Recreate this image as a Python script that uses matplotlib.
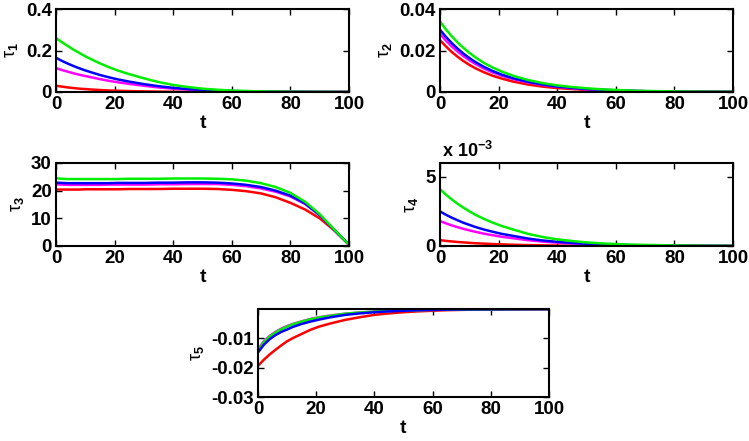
import matplotlib
matplotlib.use("Agg")
import matplotlib.pyplot as plt

plt.rcParams['font.family'] = ['Liberation Sans', 'DejaVu Sans']
plt.rcParams['font.weight'] = 'bold'
plt.rcParams['mathtext.fontset'] = 'custom'
plt.rcParams['mathtext.rm'] = 'Liberation Sans'
plt.rcParams['mathtext.it'] = 'Liberation Sans'
plt.rcParams['mathtext.bf'] = 'Liberation Sans:bold'

t = [0, 2, 4, 6, 8, 10, 12, 15, 18, 21, 25, 30, 35, 40, 45, 50, 55, 60, 65, 70, 75, 80, 85, 90, 95, 100]

# tau1
tau1_green = [0.26, 0.24, 0.222, 0.204, 0.188, 0.172, 0.158, 0.138, 0.12, 0.104, 0.086, 0.066, 0.048, 0.034, 0.024, 0.016, 0.011, 0.007, 0.005, 0.003, 0.002, 0.0013, 0.0008, 0.0005, 0.0003, 0.0002]
tau1_blue = [0.165, 0.150, 0.137, 0.125, 0.114, 0.104, 0.095, 0.082, 0.071, 0.061, 0.050, 0.038, 0.028, 0.020, 0.014, 0.010, 0.007, 0.005, 0.003, 0.002, 0.0014, 0.001, 0.0006, 0.0004, 0.0003, 0.0002]
tau1_magenta = [0.115, 0.106, 0.098, 0.090, 0.083, 0.077, 0.071, 0.062, 0.054, 0.047, 0.039, 0.030, 0.022, 0.016, 0.012, 0.008, 0.006, 0.004, 0.003, 0.002, 0.0013, 0.0009, 0.0006, 0.0004, 0.0002, 0.0001]
tau1_red = [0.030, 0.026, 0.022, 0.019, 0.016, 0.014, 0.012, 0.0095, 0.0075, 0.006, 0.0045, 0.003, 0.002, 0.0013, 0.0009, 0.0006, 0.0004, 0.0003, 0.0002, 0.0001, 0.0001, 0.0001, 0.0, 0.0, 0.0, 0.0]

# tau2
tau2_green = [0.034, 0.0302, 0.0269, 0.0239, 0.0213, 0.0189, 0.0168, 0.0140, 0.0118, 0.0099, 0.0078, 0.0058, 0.0043, 0.0032, 0.0024, 0.0018, 0.0013, 0.0010, 0.0007, 0.0005, 0.0004, 0.0003, 0.0002, 0.00015, 0.0001, 0.00008]
tau2_blue = [0.030, 0.0266, 0.0236, 0.0209, 0.0185, 0.0164, 0.0145, 0.0121, 0.0101, 0.0084, 0.0066, 0.0049, 0.0036, 0.0026, 0.0020, 0.0014, 0.0011, 0.0008, 0.0006, 0.0004, 0.0003, 0.0002, 0.00015, 0.0001, 0.00008, 0.00006]
tau2_magenta = [0.028, 0.0248, 0.0220, 0.0195, 0.0173, 0.0153, 0.0136, 0.0113, 0.0094, 0.0079, 0.0062, 0.0046, 0.0034, 0.0025, 0.0018, 0.0013, 0.0010, 0.0007, 0.0005, 0.0004, 0.0003, 0.0002, 0.00015, 0.0001, 0.00007, 0.00005]
tau2_red = [0.025, 0.0220, 0.0193, 0.0170, 0.0149, 0.0131, 0.0115, 0.0095, 0.0078, 0.0065, 0.0050, 0.0036, 0.0026, 0.0019, 0.0014, 0.0010, 0.0007, 0.0005, 0.0004, 0.0003, 0.0002, 0.00015, 0.0001, 0.00007, 0.00005, 0.00004]

# tau3
tau3_green = [24.5, 24.3, 24.2, 24.2, 24.2, 24.2, 24.2, 24.2, 24.2, 24.2, 24.3, 24.3, 24.3, 24.4, 24.4, 24.4, 24.3, 24.1, 23.6, 22.7, 21.3, 19.2, 16.0, 11.5, 5.9, 0.5]
tau3_blue = [22.9, 22.8, 22.7, 22.7, 22.7, 22.7, 22.7, 22.7, 22.7, 22.8, 22.8, 22.8, 22.9, 22.9, 23.0, 23.0, 22.9, 22.6, 22.1, 21.3, 20.0, 18.2, 15.4, 11.2, 5.8, 0.5]
tau3_magenta = [22.3, 22.2, 22.1, 22.1, 22.1, 22.1, 22.1, 22.1, 22.2, 22.2, 22.2, 22.2, 22.3, 22.3, 22.4, 22.4, 22.4, 22.1, 21.6, 20.8, 19.6, 17.9, 15.2, 11.1, 5.7, 0.5]
tau3_red = [20.4, 20.4, 20.4, 20.4, 20.4, 20.5, 20.5, 20.5, 20.5, 20.5, 20.6, 20.6, 20.6, 20.7, 20.7, 20.7, 20.6, 20.3, 19.8, 19.0, 17.6, 15.6, 13.2, 10.0, 5.6, 0.5]

# tau4 (in units of 10^-3)
tau4_green = [4.1, 3.72, 3.37, 3.05, 2.77, 2.51, 2.27, 1.96, 1.69, 1.45, 1.19, 0.88, 0.65, 0.48, 0.36, 0.26, 0.19, 0.14, 0.10, 0.08, 0.06, 0.04, 0.03, 0.02, 0.015, 0.01]
tau4_blue = [2.5, 2.26, 2.05, 1.86, 1.68, 1.53, 1.38, 1.19, 1.03, 0.88, 0.73, 0.54, 0.40, 0.30, 0.22, 0.16, 0.12, 0.09, 0.065, 0.05, 0.035, 0.025, 0.02, 0.015, 0.01, 0.008]
tau4_magenta = [1.8, 1.64, 1.49, 1.36, 1.24, 1.13, 1.03, 0.89, 0.78, 0.67, 0.56, 0.42, 0.32, 0.24, 0.18, 0.13, 0.10, 0.075, 0.055, 0.04, 0.03, 0.022, 0.016, 0.012, 0.009, 0.007]
tau4_red = [0.42, 0.37, 0.33, 0.29, 0.26, 0.23, 0.20, 0.17, 0.14, 0.12, 0.09, 0.065, 0.047, 0.034, 0.025, 0.018, 0.013, 0.01, 0.007, 0.005, 0.004, 0.003, 0.002, 0.002, 0.001, 0.001]

# tau5
tau5_green = [-0.0143, -0.0113, -0.0094, -0.0080, -0.0069, -0.0060, -0.0052, -0.0043, -0.0035, -0.0029, -0.0023, -0.0016, -0.0012, -0.0009, -0.0007, -0.0005, -0.0004, -0.0003, -0.0002, -0.00015, -0.0001, -0.0001, -0.00008, -0.00006, -0.00005, -0.00004]
tau5_blue = [-0.0148, -0.0122, -0.0103, -0.0089, -0.0078, -0.0070, -0.0061, -0.0051, -0.0043, -0.0036, -0.0028, -0.0020, -0.0015, -0.0011, -0.0008, -0.0006, -0.0004, -0.0003, -0.0002, -0.00015, -0.0001, -0.0001, -0.00008, -0.00006, -0.00005, -0.00004]
tau5_magenta = [-0.0138, -0.0110, -0.0092, -0.0078, -0.0067, -0.0058, -0.0051, -0.0042, -0.0034, -0.0028, -0.0022, -0.0016, -0.0012, -0.0009, -0.0007, -0.0005, -0.0004, -0.0003, -0.0002, -0.00015, -0.0001, -0.0001, -0.00008, -0.00006, -0.00005, -0.00004]
tau5_red = [-0.0194, -0.0173, -0.0155, -0.0139, -0.0124, -0.0110, -0.0099, -0.0085, -0.0071, -0.0060, -0.0049, -0.0037, -0.0028, -0.0020, -0.0015, -0.0011, -0.0008, -0.0006, -0.0004, -0.0003, -0.0002, -0.00015, -0.0001, -0.0001, -0.00008, -0.00006]

xticks = [0, 20, 40, 60, 80, 100]
xticklabels = ['0', '20', '40', '60', '80', '100']

colors = {'red': '#ff0000', 'magenta': '#ff00ff', 'blue': '#0000ff', 'green': '#00ee00'}

W, H = 749, 441
fig = plt.figure(figsize=(W / 100, H / 100), dpi=100)

def add_ax(l, r, top, bot):
    return fig.add_axes([l / W, 1 - bot / H, (r - l) / W, (bot - top) / H])

panels = [
    (add_ax(56, 349, 9, 92), [tau1_red, tau1_magenta, tau1_blue, tau1_green],
     (0, 0.4), [0, 0.2, 0.4], ['0', '0.2', '0.4'], 'τ$_1$'),
    (add_ax(440, 733, 9, 92), [tau2_red, tau2_magenta, tau2_blue, tau2_green],
     (0, 0.04), [0, 0.02, 0.04], ['0', '0.02', '0.04'], 'τ$_2$'),
    (add_ax(56, 349, 163, 246), [tau3_red, tau3_magenta, tau3_blue, tau3_green],
     (0, 30), [0, 10, 20, 30], ['0', '10', '20', '30'], 'τ$_3$'),
    (add_ax(440, 733, 163, 246), [tau4_red, tau4_magenta, tau4_blue, tau4_green],
     (0, 6), [0, 5], ['0', '5'], 'τ$_4$'),
    (add_ax(258, 549, 309, 397), [tau5_red, tau5_magenta, tau5_green, tau5_blue],
     (-0.03, 0), [-0.03, -0.02, -0.01], ['-0.03', '-0.02', '-0.01'], 'τ$_5$'),
]
orders = [['red', 'magenta', 'blue', 'green']] * 4 + [['red', 'magenta', 'green', 'blue']]

for (ax, series, ylim, yt, ytl, ylab), order in zip(panels, orders):
    for s, c in zip(series, order):
        ax.plot(t, s, color=colors[c], lw=1.8)
    ax.set_xlim(0, 100)
    ax.set_ylim(*ylim)
    ax.set_xticks(xticks)
    ax.set_xticklabels(xticklabels, fontsize=13.5, fontweight='bold')
    ax.set_yticks(yt)
    ax.set_yticklabels(ytl, fontsize=13.5, fontweight='bold')
    ax.tick_params(direction='in', length=4, width=1, top=True, right=True, pad=3)
    for sp in ax.spines.values():
        sp.set_linewidth(1.5)
    ax.set_xlabel('t', fontsize=14, fontweight='bold', labelpad=1)
    ax.set_ylabel(ylab, fontsize=13, fontweight='normal', labelpad=4)

fig.text(442 / W, 1 - 157 / H, r'x 10$^{\mathbf{-3}}$', fontsize=13, fontweight='bold', va='baseline', ha='left')

fig.savefig('out.png', dpi=100)
